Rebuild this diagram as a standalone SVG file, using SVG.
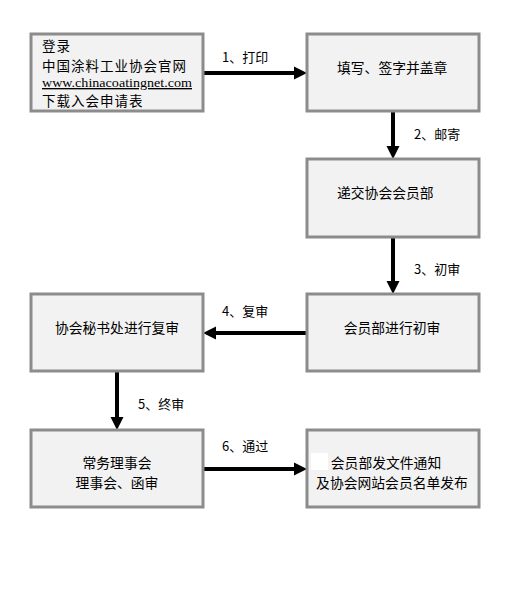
<svg xmlns="http://www.w3.org/2000/svg" width="520" height="590" viewBox="0 0 520 590">
<style>
.box{fill:#f2f2f2;stroke:#8c8c8c;stroke-width:3}
.t{font-family:"Noto Sans CJK SC","Liberation Sans",sans-serif;font-size:13.8px;fill:#000}
.t1{font-family:"Noto Sans CJK SC","Liberation Sans",sans-serif;font-size:13.5px;letter-spacing:1px;fill:#000}
.l{font-family:"Noto Sans CJK SC","Liberation Sans",sans-serif;font-size:13px;fill:#000}
.c{stroke:#000;stroke-width:4;fill:none}
.h{fill:#000}
</style>
<rect width="520" height="590" fill="#fff"/>
<g id="connectors">
<line class="c" x1="203" y1="73" x2="295" y2="73"/><polygon class="h" points="307,73 294,66.5 294,79.5"/>
<line class="c" x1="393" y1="111" x2="393" y2="147"/><polygon class="h" points="393,159 386.5,146 399.5,146"/>
<line class="c" x1="393" y1="237" x2="393" y2="282"/><polygon class="h" points="393,294 386.5,281 399.5,281"/>
<line class="c" x1="307" y1="333" x2="215" y2="333"/><polygon class="h" points="203,333 216,326.5 216,339.5"/>
<line class="c" x1="117" y1="371" x2="117" y2="418"/><polygon class="h" points="117,430 110.5,417 123.5,417"/>
<line class="c" x1="203" y1="469" x2="295" y2="469"/><polygon class="h" points="307,469 294,462.5 294,475.5"/>
<text class="l" x="222" y="62">1、打印</text>
<text class="l" x="414" y="139">2、邮寄</text>
<text class="l" x="414" y="274">3、初审</text>
<text class="l" x="222" y="316">4、复审</text>
<text class="l" x="138" y="409">5、终审</text>
<text class="l" x="222" y="451">6、通过</text>
</g>
<g id="n1">
<rect class="box" x="31" y="34" width="172" height="77"/>
<text class="t1" x="42" y="51">登录</text>
<text class="t1" x="42" y="71">中国涂料工业协会官网</text>
<text x="42" y="87" font-family="Liberation Serif,serif" font-size="13.5" text-decoration="underline" textLength="150" lengthAdjust="spacingAndGlyphs">www.chinacoatingnet.com</text>
<text class="t1" x="42" y="106">下载入会申请表</text>
</g>
<g id="n2">
<rect class="box" x="307" y="34" width="172" height="77"/>
<text class="t" x="337" y="73">填写、签字并盖章</text>
</g>
<g id="n3">
<rect class="box" x="307" y="159" width="172" height="78"/>
<text class="t" x="337" y="198">递交协会会员部</text>
</g>
<g id="n4">
<rect class="box" x="307" y="294" width="172" height="77"/>
<text class="t" x="392" y="333" text-anchor="middle">会员部进行初审</text>
</g>
<g id="n5">
<rect class="box" x="31" y="294" width="172" height="77"/>
<text class="t" x="117" y="333" text-anchor="middle">协会秘书处进行复审</text>
</g>
<g id="n6">
<rect class="box" x="31" y="430" width="172" height="77"/>
<text class="t" x="117" y="468" text-anchor="middle">常务理事会</text>
<text class="t" x="117" y="488" text-anchor="middle">理事会、函审</text>
</g>
<g id="n7">
<rect class="box" x="307" y="430" width="172" height="77"/>
<rect x="311" y="453" width="17" height="17" fill="#fff"/>
<text class="t" x="386" y="468" text-anchor="middle">会员部发文件通知</text>
<text class="t" x="392" y="488" text-anchor="middle">及协会网站会员名单发布</text>
</g>
</svg>
